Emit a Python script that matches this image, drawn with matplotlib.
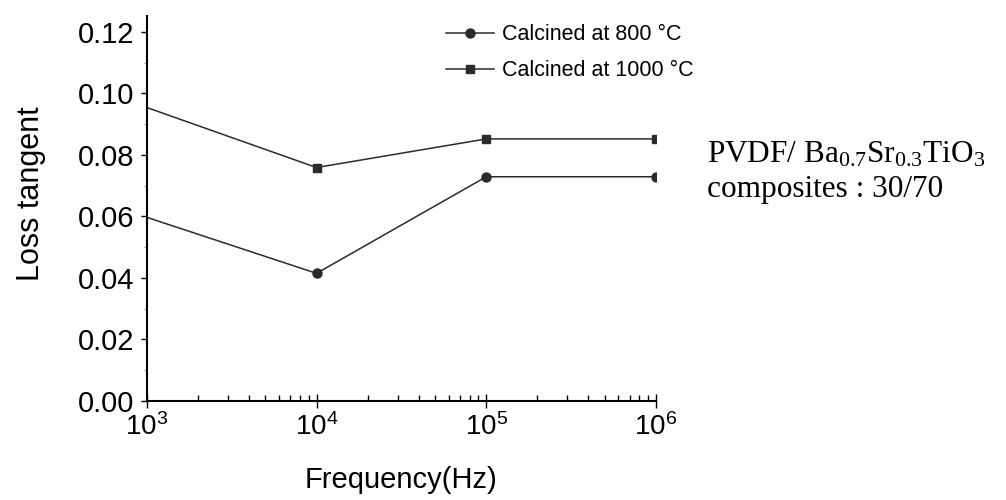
import matplotlib
matplotlib.use("Agg")
from matplotlib import pyplot as plt
from matplotlib.ticker import MultipleLocator, LogLocator

plt.rcParams['font.family'] = ['Liberation Sans', 'DejaVu Sans']
plt.rcParams['mathtext.fontset'] = 'custom'
plt.rcParams['mathtext.rm'] = 'Liberation Serif'
plt.rcParams['mathtext.it'] = 'Liberation Serif:italic'

freq = [1e3, 1e4, 1e5, 1e6]
tan_800 = [0.0597, 0.0415, 0.0729, 0.0729]
tan_1000 = [0.0954, 0.0759, 0.0852, 0.0852]
labels = ['Calcined at 800 \u00b0C', 'Calcined at 1000 \u00b0C']

fig = plt.figure(figsize=(10.06, 5), dpi=100)
ax = fig.add_axes([0.146, 0.198, 0.506, 0.769])

c = '#2b2b2b'
ax.plot(freq, tan_800, '-', color=c, lw=1.1, marker='o', ms=6.5, markevery=[1, 2, 3], label=labels[0])
ax.plot(freq, tan_1000, '-', color=c, lw=1.1, marker='s', ms=6, markevery=[1, 2, 3], label=labels[1])

ax.set_xscale('log')
ax.set_xlim(1e3, 1e6)
ax.set_ylim(0, 0.125)
ax.set_yticks([0, 0.02, 0.04, 0.06, 0.08, 0.10, 0.12])
ax.set_yticklabels(['0.00', '0.02', '0.04', '0.06', '0.08', '0.10', '0.12'])
ax.yaxis.set_minor_locator(MultipleLocator(0.01))
ax.xaxis.set_minor_locator(LogLocator(base=10, subs=range(2, 10)))

for s in ['top', 'right']:
    ax.spines[s].set_visible(False)
for s in ['left', 'bottom']:
    ax.spines[s].set_linewidth(1.5)

ax.tick_params(axis='y', which='major', direction='out', length=4, width=1, labelsize=21, pad=5)
ax.tick_params(axis='y', which='minor', direction='out', length=2, width=0.8, color='#999999')
ax.tick_params(axis='x', which='major', direction='inout', length=10, width=1, labelsize=20, pad=4)
ax.tick_params(axis='x', which='minor', direction='in', length=4, width=1)

ax.set_xlabel('Frequency(Hz)', fontsize=21, labelpad=18)
ax.set_ylabel('Loss tangent', fontsize=22)
ax.yaxis.set_label_coords(-0.198, 0.54)

ax.legend(loc='upper left', bbox_to_anchor=(0.55, 1.03), frameon=False, fontsize=15.5,
          handlelength=2.2, handletextpad=0.4, labelspacing=0.7)

fig.text(0.703, 0.69, 'PVDF/ $\\mathrm{Ba_{0.7}Sr_{0.3}TiO_3}$', fontsize=22.5,
         family='Liberation Serif', va='center')
fig.text(0.703, 0.62, 'composites : 30/70', fontsize=22.5, family='Liberation Serif', va='center')

fig.savefig('out.png', dpi=100)
